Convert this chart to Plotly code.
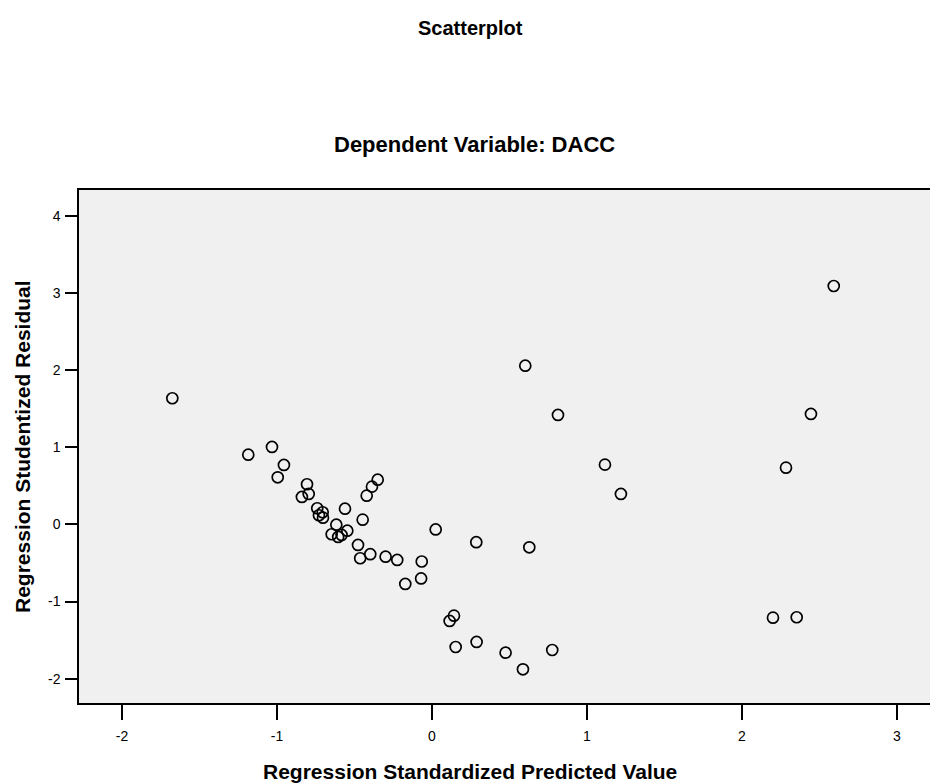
import plotly.graph_objects as go

predicted = [-1.675, -1.185, -1.032, -0.955, -0.995, -0.806, -0.839, -0.795, -0.740, -0.705,
             -0.729, -0.703, -0.561, -0.350, -0.387, -0.421, -0.447, -0.617, -0.546, -0.647,
             -0.605, -0.583, -0.477, -0.463, -0.398, -0.299, -0.224, -0.066, 0.024, 0.286,
             -0.172, -0.070, 0.602, 0.813, 1.116, 1.219, 0.628, 0.142, 0.114, 0.153,
             0.288, 0.475, 0.587, 0.776, 2.592, 2.445, 2.284, 2.200, 2.353]
residual = [1.634, 0.903, 1.003, 0.770, 0.610, 0.520, 0.355, 0.394, 0.209, 0.157,
            0.118, 0.087, 0.203, 0.579, 0.489, 0.372, 0.061, -0.004, -0.082, -0.128,
            -0.163, -0.137, -0.267, -0.439, -0.387, -0.419, -0.461, -0.481, -0.066, -0.231,
            -0.772, -0.701, 2.056, 1.418, 0.774, 0.394, -0.297, -1.183, -1.252, -1.589,
            -1.524, -1.663, -1.878, -1.628, 3.089, 1.431, 0.735, -1.209, -1.204]

x_ticks = [-2, -1, 0, 1, 2, 3]
y_ticks = [-2, -1, 0, 1, 2, 3, 4]

FONT = "Liberation Sans, Arial, sans-serif"

fig = go.Figure()
fig.add_trace(go.Scatter(
    x=predicted, y=residual, mode="markers",
    marker=dict(symbol="circle-open", size=11, color="black", line=dict(width=1.7, color="black")),
    showlegend=False, hoverinfo="x+y"))

W, H = 930, 784
L, R, T, B = 79, 0, 190, 81
pw, ph = W - L - R, H - T - B

def px(xp):
    return (xp - L) / pw

def py(yp):
    return (H - B - yp) / ph

fig.update_layout(
    width=W, height=H,
    margin=dict(l=L, r=R, t=T, b=B),
    paper_bgcolor="white", plot_bgcolor="#f0f0f0",
    font=dict(family=FONT, color="black", size=14),
    xaxis=dict(range=[-2.277, 3.213], tickvals=x_ticks, ticktext=[str(v) for v in x_ticks],
               ticks="outside", ticklen=15, tickwidth=1.5, tickcolor="black",
               ticklabelstandoff=4,
               showline=True, linecolor="black", linewidth=1.5, mirror=True,
               showgrid=False, zeroline=False, tickfont=dict(size=14, color="black")),
    yaxis=dict(range=[-2.315, 4.333], tickvals=y_ticks, ticktext=[str(v) for v in y_ticks],
               ticks="outside", ticklen=12, tickwidth=1.5, tickcolor="black",
               ticklabelstandoff=2,
               showline=True, linecolor="black", linewidth=1.5, mirror=False,
               showgrid=False, zeroline=False, tickfont=dict(size=14, color="black")),
    annotations=[
        dict(text="<b>Scatterplot</b>", x=px(470), y=py(28), xref="paper", yref="paper",
             showarrow=False, xanchor="center", yanchor="middle", font=dict(size=20, family=FONT)),
        dict(text="<b>Dependent Variable: DACC</b>", x=px(474), y=py(145), xref="paper", yref="paper",
             showarrow=False, xanchor="center", yanchor="middle", font=dict(size=22, family=FONT)),
        dict(text="<b>Regression Standardized Predicted Value</b>", x=px(470), y=py(771),
             xref="paper", yref="paper", showarrow=False, xanchor="center", yanchor="middle",
             font=dict(size=21, family=FONT)),
        dict(text="<b>Regression Studentized Residual</b>", x=px(22), y=py(447),
             xref="paper", yref="paper", showarrow=False, xanchor="center", yanchor="middle",
             textangle=-90, font=dict(size=21, family=FONT)),
    ],
)

fig.write_html("out.html", config={"displayModeBar": False},
               post_script="document.body.style.margin='0';document.body.style.overflow='hidden';")
